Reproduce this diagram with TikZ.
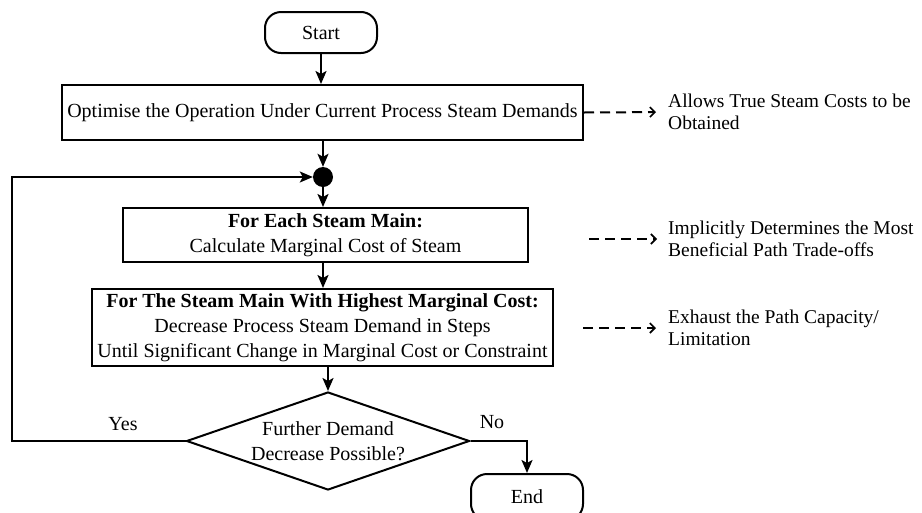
\documentclass[tikz,border=0pt]{standalone}
\usepackage{fontspec}
\setmainfont{Liberation Serif}
\usetikzlibrary{arrows.meta,shapes.geometric}
\begin{document}
\begin{tikzpicture}[x=1pt,y=-1pt,
  box/.style={draw,line width=2pt,inner sep=0pt,align=center,font=\fontsize{20}{25}\selectfont},
  term/.style={box,rounded corners=16pt,minimum width=112pt,minimum height=41pt},
  flow/.style={line width=2pt,-{Stealth[length=13pt,width=11pt,inset=3pt]}},
  note/.style={line width=2pt,dash pattern=on 10pt off 6pt,-{Straight Barb[length=5pt,width=10pt,line width=1.6pt]}},
  lab/.style={inner sep=0pt,align=left,anchor=west,font=\fontsize{19.5}{21.5}\selectfont},
  tag/.style={inner sep=0pt,font=\fontsize{20}{24}\selectfont}]
\useasboundingbox (0,0) rectangle (922,512);
% main column
\node[term] (start) at (321,32.5) {Start};
\node[box,minimum width=521pt,minimum height=55pt] (b1) at (322.5,112.5)
  {Optimise the Operation Under Current Process Steam Demands};
\node[circle,fill,inner sep=0pt,minimum size=20pt] (dot) at (323,177) {};
\node[box,minimum width=405pt,minimum height=54pt] (b2) at (325.5,235)
  {\textbf{For Each Steam Main:}\\Calculate Marginal Cost of Steam};
\node[box,minimum width=461pt,minimum height=77pt] (b3) at (322.5,327.5)
  {\textbf{For The Steam Main With Highest Marginal Cost:}\\Decrease Process Steam Demand in Steps\\Until Significant Change in Marginal Cost or Constraint};
\node[diamond,draw,line width=2pt,inner sep=0pt,aspect=2.89,minimum width=283pt,minimum height=98pt] (dia) at (328,441) {};
\node[align=center,inner sep=0pt,font=\fontsize{20}{25}\selectfont] (diatext) at (dia.center) {Further Demand\\Decrease Possible?};
\node[term,minimum height=46pt] (end) at (527,497) {End};
% connectors
\draw[flow] (start) -- (start |- b1.north);
\draw[flow] (dot |- b1.south) -- (dot);
\draw[flow] (dot) -- (dot |- b2.north);
\draw[flow] (dot |- b2.south) -- (dot |- b3.north);
\draw[flow] (dia.north |- b3.south) -- (dia.north);
\coordinate (fb) at (12,177);
\draw[flow] (dia.west) -- (dia.west -| fb) -- (fb) -- (dot);
\draw[flow] (dia.east) -| (end.north);
\node[tag] (yes) at (123,424) {Yes};
\node[tag] (no) at (492,422) {No};
% side notes
\node[lab] (n1) at (668,112) {Allows True Steam Costs to be\\Obtained};
\node[lab] (n2) at (668,239) {Implicitly Determines the Most\\Beneficial Path Trade-offs};
\node[lab] (n3) at (668,328) {Exhaust the Path Capacity/\\Limitation};
\coordinate (s2) at (589,239);
\coordinate (s3) at (583,328);
\draw[note,shorten >=12pt] (b1.east) -- (n1.west);
\draw[note,shorten >=11pt] (s2) -- (n2.west);
\draw[note,shorten >=12pt] (s3) -- (n3.west);
\end{tikzpicture}
\end{document}
